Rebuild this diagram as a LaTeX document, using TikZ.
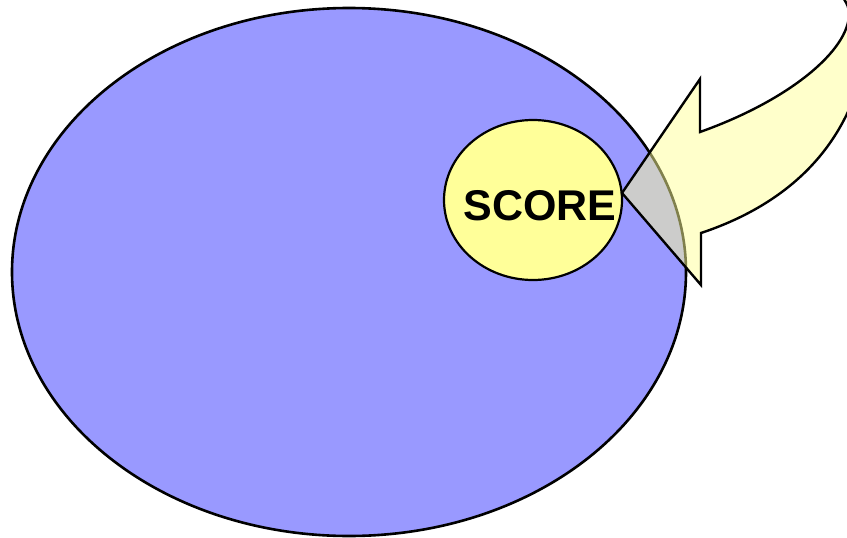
\documentclass[tikz,border=0pt]{standalone}
\usepackage{fontspec}
\setmainfont{Liberation Sans}
\usetikzlibrary{shapes.geometric}
\definecolor{outerblue}{RGB}{153,153,255}
\definecolor{scoreyellow}{RGB}{255,255,153}
\definecolor{arrowyellow}{RGB}{255,255,153}
\tikzset{
  bigoval/.style={ellipse, draw=black, line width=2.6pt, fill=outerblue, inner sep=0pt, outer sep=0pt},
  scoreoval/.style={ellipse, draw=black, line width=2.2pt, fill=scoreyellow, inner sep=0pt, outer sep=0pt},
  scorelabel/.style={font=\bfseries\fontsize{43}{48}\selectfont, inner sep=0pt},
  bentarrow/.style={draw=black, line width=2.4pt, fill=arrowyellow, fill opacity=0.5, draw opacity=1, line join=miter}
}
\begin{document}
\begin{tikzpicture}[x=1pt,y=-1pt]
\useasboundingbox (0,0) rectangle (847,538);
\clip (0,0) rectangle (847,538);
\fill[white] (0,0) rectangle (847,538);
\node[bigoval, minimum width=674pt, minimum height=528pt] (outer) at (349,272) {};
\node[scoreoval, minimum width=178pt, minimum height=160pt] (score) at (533,200) {};
\node[scorelabel, anchor=base] (scoretext) at (540,220) {SCORE};
\coordinate (tip) at (622,193);
\path[bentarrow] (tip) -- (700,79) -- (700,132)
  .. controls (790,100) and (849,50) .. (849,14)
  .. controls (849,6) and (846,2) .. (838,-10)
  -- (960,-10) -- (960,80) -- (860,80)
  .. controls (835,165) and (770,210) .. (701,233)
  -- (701,285) -- cycle;
\end{tikzpicture}
\end{document}
